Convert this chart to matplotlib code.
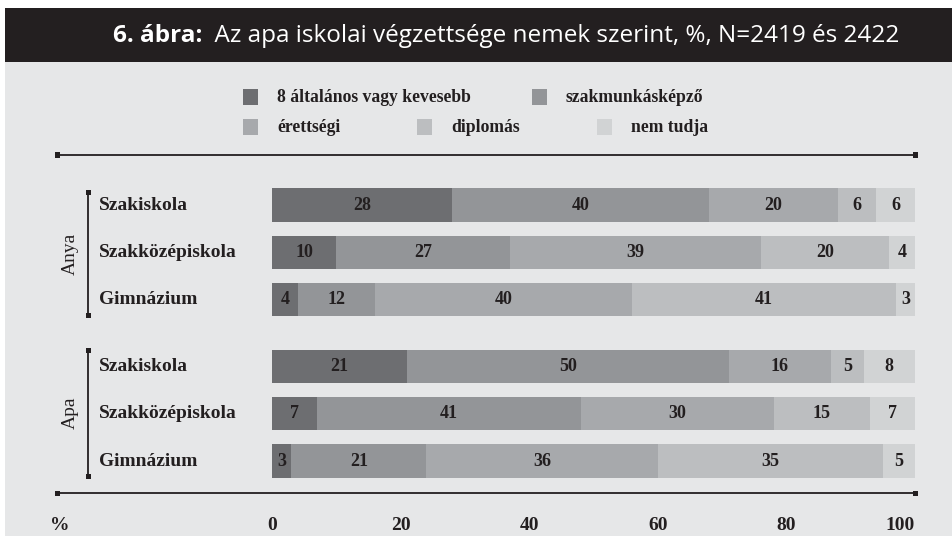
import matplotlib
matplotlib.use("Agg")
import matplotlib.pyplot as plt
from matplotlib.lines import Line2D
from matplotlib.patches import Rectangle
import numpy as np

# ---- data ----
categories = ["Szakiskola", "Szakközépiskola", "Gimnázium",
              "Szakiskola", "Szakközépiskola", "Gimnázium"]
groups = ["Anya", "Apa"]
series_names = ["8 általános vagy kevesebb", "szakmunkásképző", "érettségi",
                "diplomás", "nem tudja"]
alt8 = [28, 10, 4, 21, 7, 3]
szakmunkas = [40, 27, 12, 50, 41, 21]
erettsegi = [20, 39, 40, 16, 30, 36]
diplomas = [6, 20, 41, 5, 15, 35]
nem_tudja = [6, 4, 3, 8, 7, 5]
xticks = [0, 20, 40, 60, 80, 100]
title_bold = "6. ábra:"
title_rest = "  Az apa iskolai végzettsége nemek szerint, %, N=2419 és 2422"

series = [alt8, szakmunkas, erettsegi, diplomas, nem_tudja]
colors = ["#6d6e71", "#939598", "#a7a9ac", "#bcbec0", "#d1d3d4"]
ypos = [0, 1, 2, 3.4, 4.4, 5.4]

FONT = "Liberation Serif"
TFONT = "Open Sans"
INK = "#231f20"
W, H = 952, 536
fig = plt.figure(figsize=(W / 100, H / 100), dpi=100)
fig.patch.set_facecolor("white")

def fx(px):
    return px / W

def fy(py):
    return 1 - py / H

# background panels
fig.add_artist(Rectangle((fx(5), 0), fx(947), (536 - 62) / H,
                         transform=fig.transFigure, facecolor="#e6e7e8", edgecolor="none", zorder=0))
fig.add_artist(Rectangle((fx(5), fy(62)), fx(947), (62 - 8) / H,
                         transform=fig.transFigure, facecolor=INK, edgecolor="none", zorder=0))

# title
r = fig.canvas.get_renderer()
t1 = fig.text(0, fy(36), title_bold, fontsize=17.5, fontweight="bold", color="white",
              family=TFONT, va="center", ha="left")
t2 = fig.text(0, fy(36), title_rest, fontsize=17.5, color="white",
              family=TFONT, va="center", ha="left")
w1 = t1.get_window_extent(r).width
w2 = t2.get_window_extent(r).width
start = 506 - (w1 + w2) / 2
t1.set_x(fx(start))
t2.set_x(fx(start + w1))

# legend
leg_pos = [(243, 97), (532, 97), (243, 127), (417, 127), (597, 127)]
for (lx, ly), name, c in zip(leg_pos, series_names, colors):
    fig.add_artist(Rectangle((fx(lx), fy(ly + 8)), fx(15), 16 / H,
                             transform=fig.transFigure, facecolor=c, edgecolor="none"))
    fig.text(fx(lx + 34), fy(ly), name, fontsize=12.7, fontweight="bold", color=INK,
             family=FONT, va="center", ha="left")

# horizontal rules with end caps
for ly in (155, 493):
    fig.add_artist(Line2D([fx(57), fx(915)], [fy(ly), fy(ly)], transform=fig.transFigure,
                          color=INK, lw=1.3))
    for ex in (57, 915):
        fig.add_artist(Rectangle((fx(ex - 2.5), fy(ly + 2.5)), fx(5), 5 / H,
                                 transform=fig.transFigure, facecolor=INK, edgecolor="none"))

# group brackets
for gname, (y0, y1) in zip(groups, [(192, 315), (350, 476)]):
    fig.add_artist(Line2D([fx(88), fx(88)], [fy(y0), fy(y1)], transform=fig.transFigure,
                          color=INK, lw=1.3))
    for ey in (y0, y1):
        fig.add_artist(Rectangle((fx(85.5), fy(ey + 2.5)), fx(5), 5 / H,
                                 transform=fig.transFigure, facecolor=INK, edgecolor="none"))
    fig.text(fx(70), fy((y0 + y1) / 2), gname, rotation=90, fontsize=14, color=INK,
             family=FONT, va="center", ha="center")

# main bar axes
px_per_unit = (461 - 205) / 5.4
top_px = 205 - 0.5 * px_per_unit
bot_px = 461 + 0.5 * px_per_unit
ax = fig.add_axes([fx(272), fy(bot_px), fx(915 - 272), (bot_px - top_px) / H])
ax.set_facecolor("none")
ax.set_xlim(0, 100)
ax.set_ylim(5.9, -0.5)

left = np.zeros(len(categories))
for vals, c in zip(series, colors):
    vals = np.array(vals, dtype=float)
    ax.barh(ypos, vals, left=left, height=0.70, color=c, edgecolor="none")
    for y, v, l in zip(ypos, vals, left):
        ax.text(l + v / 2, y, f"{int(v)}", ha="center", va="center", fontsize=13,
                fontweight="bold", color=INK, family=FONT)
    left += vals

for s in ax.spines.values():
    s.set_visible(False)
ax.set_yticks([])
ax.set_xticks(xticks)
ax.set_xticklabels([str(t) for t in xticks])
ax.tick_params(axis="x", length=0, pad=23, labelsize=14)
for lab in ax.get_xticklabels():
    lab.set_fontfamily(FONT)
    lab.set_fontweight("bold")
    lab.set_color(INK)
ax.get_xticklabels()[-1].set_horizontalalignment("right")

# "%" label
fig.text(fx(60), fy(525), "%", fontsize=14, fontweight="bold", color=INK,
         family=FONT, va="center", ha="center")

# category labels
for y, cat in zip(ypos, categories):
    py = top_px + (y + 0.5) * px_per_unit
    fig.text(fx(99), fy(py), cat, fontsize=14, fontweight="bold", color=INK,
             family=FONT, va="center", ha="left")

fig.savefig("out.png", dpi=100, facecolor=fig.get_facecolor())
